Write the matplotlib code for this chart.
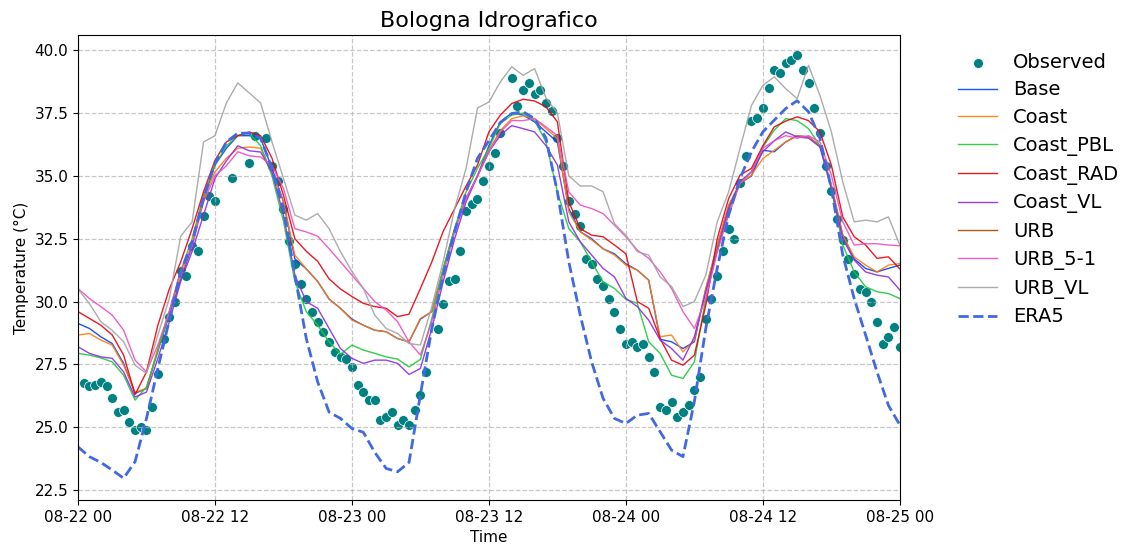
import numpy as np
import pandas as pd
import matplotlib
matplotlib.use("Agg")
import matplotlib.pyplot as plt
import matplotlib.dates as mdates

nan = np.nan

# half-hourly station observations, 08-22 00:30 .. 08-25 00:00
observed = [
    26.75, 26.63, 26.7, 26.8, 26.63, 26.15, 25.6, 25.7, 25.2, 24.9, 25.0, 24.9,
    25.8, 27.1, 28.5, 29.4, 30.0, 31.2, 31.0, 32.2, 32.0, 33.4, 34.2, 34.0,
    nan, nan, 34.9, nan, nan, 35.5, 36.6, nan, 36.5, 35.4, 34.8, 33.7,
    32.4, 31.5, 30.7, 30.1, 29.6, 29.2, 28.8, 28.4, 28.0, 27.8, 27.7, 27.4,
    26.7, 26.4, 26.1, 26.1, 25.3, 25.4, 25.6, 25.1, 25.3, 25.1, 25.7, 26.3,
    27.2, nan, 28.9, 29.9, 30.8, 30.9, 32.0, 33.6, 33.9, 34.1, 34.8, 35.4,
    35.9, 36.7, nan, 38.9, 37.8, 38.4, 38.7, 38.25, 38.4, 37.9, 37.6, 36.5,
    35.4, 34.0, 33.5, 33.0, 31.7, 31.5, 30.9, 30.6, 30.1, 29.6, 28.9, 28.3,
    28.4, 28.2, 28.3, 27.8, 27.2, 25.8, 25.7, 26.0, 25.4, 25.6, 25.9, 26.5,
    27.0, 29.3, 30.1, 31.0, 32.0, 32.9, 32.5, 34.7, 35.8, 37.2, 37.3, 37.7,
    38.5, 39.2, 39.1, 39.5, 39.6, 39.8, 39.2, 38.7, 37.7, 36.7, 35.4, 34.4,
    33.3, 32.45, 31.7, 31.1, 30.5, 30.4, 30.0, 29.2, 28.3, 28.6, 29.0, 28.2,
]

# hourly model output, 08-22 00 .. 08-25 00
base = [
    29.13, 28.93, 28.6, 28.33, 27.54, 26.35, 26.54, 28.07, 29.46, 30.9, 32.2, 34.1,
    35.43, 36.1, 36.6, 36.6, 36.5, 35.3, 33.97, 31.7, 31.3, 30.8, 30.1, 29.73,
    29.3, 29.06, 28.86, 28.8, 28.53, 28.4, 29.3, 29.6, 31.3, 32.9, 34.1, 35.0,
    36.2, 37.15, 37.5, 37.42, 37.15, 36.75, 36.35, 33.7, 32.78, 32.5, 32.1, 31.9,
    31.5, 31.25, 30.85, 28.5, 28.4, 28.13, 28.4, 30.5, 32.2, 33.8, 34.7, 35.0,
    36.02, 35.96, 36.35, 36.6, 36.55, 36.2, 34.6, 32.64, 31.7, 31.32, 31.18, 31.32,
    31.45,
]
coast = [
    28.67, 28.73, 28.47, 28.27, 27.47, 26.4, 26.54, 28.13, 29.6, 31.0, 32.3, 34.1,
    35.16, 35.7, 36.1, 36.15, 36.1, 35.16, 33.97, 31.85, 31.3, 30.8, 30.1, 29.73,
    29.26, 29.06, 28.86, 28.8, 28.53, 28.4, 29.33, 29.6, 31.3, 32.9, 34.1, 35.0,
    36.02, 36.8, 37.28, 37.39, 37.28, 36.88, 36.49, 33.57, 32.78, 32.45, 32.1, 31.85,
    31.45, 31.25, 30.85, 28.6, 28.67, 28.0, 28.47, 30.52, 32.25, 33.84, 34.7, 35.03,
    35.69, 36.02, 36.35, 36.6, 36.55, 36.2, 34.63, 32.64, 31.78, 31.45, 31.18, 31.45,
    31.51,
]
coast_pbl = [
    27.94, 27.87, 27.76, 27.6, 27.07, 26.08, 26.6, 28.0, 29.6, 31.2, 32.5, 34.23,
    35.43, 36.2, 36.6, 36.7, 36.2, 35.0, 33.2, 30.8, 29.6, 29.06, 28.4, 27.9,
    28.27, 28.07, 27.94, 27.8, 27.71, 27.4, 27.7, 29.33, 31.3, 32.9, 34.36, 35.3,
    36.1, 37.1, 37.42, 37.5, 37.2, 36.35, 34.36, 32.9, 32.38, 31.58, 30.79, 30.52,
    30.09, 29.93, 28.4, 27.94, 27.07, 26.94, 27.6, 30.12, 32.05, 33.57, 34.76, 35.16,
    36.15, 36.82, 37.28, 37.2, 36.88, 36.2, 34.5, 32.25, 31.18, 30.59, 30.39, 30.32,
    30.12,
]
coast_rad = [
    29.6, 29.33, 29.06, 28.67, 27.87, 26.3, 27.2, 29.06, 30.5, 31.58, 32.9, 34.37,
    35.62, 36.35, 36.6, 36.75, 36.6, 35.7, 34.23, 32.5, 32.0, 31.6, 30.9, 30.5,
    30.2, 29.93, 29.8, 29.73, 29.4, 29.5, 30.52, 31.58, 32.8, 33.7, 34.6, 35.43,
    36.75, 37.42, 37.88, 38.05, 37.98, 37.75, 37.15, 33.97, 32.9, 32.64, 32.58, 32.25,
    31.9, 30.0, 29.73, 28.53, 27.67, 27.47, 27.87, 29.86, 32.5, 34.1, 35.03, 35.3,
    36.2, 36.95, 37.18, 37.35, 37.2, 36.75, 35.43, 33.37, 32.58, 32.25, 31.72, 31.78,
    31.3,
]
coast_vl = [
    28.2, 27.94, 27.8, 27.74, 27.2, 26.2, 26.4, 27.74, 29.2, 30.8, 32.0, 33.44,
    34.9, 35.6, 36.2, 36.0, 35.95, 35.15, 33.44, 31.05, 30.0, 29.73, 28.93, 28.13,
    27.74, 27.54, 27.67, 27.67, 27.54, 27.1, 27.34, 28.93, 30.8, 32.5, 33.97, 35.0,
    35.96, 36.62, 37.0, 36.88, 36.75, 36.2, 35.43, 33.17, 32.38, 31.85, 31.32, 30.98,
    30.13, 29.8, 29.26, 28.47, 28.13, 27.67, 28.6, 30.39, 32.0, 33.7, 34.76, 35.16,
    35.96, 36.4, 36.75, 36.55, 36.5, 36.15, 34.5, 32.5, 31.65, 31.18, 31.05, 30.98,
    30.46,
]
urb = [nan] * 73  # no URB output for this station
urb_5_1 = [
    30.52, 30.12, 29.8, 29.46, 28.86, 27.67, 27.2, 28.27, 29.6, 31.25, 32.2, 33.97,
    35.0, 35.4, 35.96, 35.8, 35.75, 35.4, 34.5, 32.9, 32.77, 32.6, 32.1, 31.58,
    31.05, 30.52, 30.0, 29.66, 29.2, 28.4, 27.87, 29.2, 31.05, 32.77, 34.1, 35.0,
    35.96, 36.75, 37.2, 37.2, 37.28, 36.95, 36.6, 34.36, 33.84, 33.7, 33.5, 33.04,
    32.58, 32.05, 31.72, 31.18, 30.52, 29.6, 28.93, 30.12, 31.98, 33.44, 34.7, 35.16,
    36.1, 36.4, 36.6, 36.5, 36.6, 36.35, 35.03, 33.17, 32.25, 32.3, 32.3, 32.25,
    32.22,
]
urb_vl = [
    30.5, 29.92, 29.2, 28.86, 28.4, 27.47, 27.14, 28.67, 30.12, 32.6, 33.17, 36.35,
    36.6, 37.9, 38.7, 38.3, 37.9, 36.35, 34.9, 33.44, 33.24, 33.5, 32.9, 31.98,
    31.2, 30.52, 29.46, 28.93, 28.73, 28.33, 28.27, 29.8, 31.6, 33.7, 35.3, 37.7,
    37.94, 38.74, 39.34, 39.0, 39.27, 38.1, 37.5, 35.0, 34.6, 34.6, 34.37, 33.1,
    32.64, 31.98, 31.85, 30.98, 30.6, 29.8, 30.0, 31.05, 33.17, 34.36, 36.1, 37.8,
    38.6, 38.94, 38.47, 38.07, 39.4, 38.2, 36.75, 34.76, 33.17, 33.24, 33.17, 33.37,
    32.25,
]
era5 = [
    24.22, 23.83, 23.6, 23.3, 22.97, 23.63, 25.35, 27.34, 29.26, 31.18, 32.38, 34.1,
    35.5, 36.35, 36.7, 36.7, 36.5, 35.3, 33.7, 31.05, 28.53, 26.8, 25.6, 25.35,
    24.95, 24.8, 24.0, 23.36, 23.23, 23.6, 26.3, 28.93, 31.05, 32.77, 34.37, 35.7,
    36.4, 37.12, 37.48, 37.55, 37.28, 36.5, 34.36, 31.58, 29.46, 27.6, 26.15, 25.35,
    25.15, 25.48, 25.55, 24.82, 24.09, 23.83, 26.02, 28.93, 31.32, 33.44, 34.9, 35.96,
    36.75, 37.22, 37.68, 37.99, 37.55, 36.5, 34.5, 31.85, 30.12, 28.67, 27.2, 25.87,
    25.09,
]

obs_time = pd.date_range("2023-08-22 00:30", periods=len(observed), freq="30min")
model_time = pd.date_range("2023-08-22 00:00", periods=73, freq="h")

models = {
    "Base": base,
    "Coast": coast,
    "Coast_PBL": coast_pbl,
    "Coast_RAD": coast_rad,
    "Coast_VL": coast_vl,
    "URB": urb,
    "URB_5-1": urb_5_1,
    "URB_VL": urb_vl,
}
palette = ["#023eff", "#ff7c00", "#1ac938", "#e8000b", "#8b2be2",
           "#9f4800", "#f14cc1", "#a3a3a3"]

fig = plt.figure(figsize=(11.22, 5.49), dpi=100)
ax = fig.add_axes([0.0695, 0.089, 0.7325, 0.847])

ax.scatter(obs_time, observed, s=50, color="teal", edgecolor="white",
           linewidth=0.5, label="Observed", zorder=1)
for (name, vals), col in zip(models.items(), palette):
    ax.plot(model_time, vals, color=col, lw=1.0, alpha=0.9, label=name, zorder=2)
ax.plot(model_time, era5, color="royalblue", lw=2.0, ls="--", label="ERA5", zorder=2)

ax.set_xlim(pd.Timestamp("2023-08-22 00:00"), pd.Timestamp("2023-08-25 00:00"))
ax.set_ylim(22.1, 40.6)
ax.set_yticks(np.arange(22.5, 40.1, 2.5))
ax.xaxis.set_major_locator(mdates.HourLocator(byhour=[0, 12]))
ax.xaxis.set_major_formatter(mdates.DateFormatter("%m-%d %H"))
ax.tick_params(labelsize=11)
ax.grid(True, ls="--", color="#b0b0b0", alpha=0.7, lw=0.9)

ax.set_title("Bologna Idrografico", fontsize=16)
ax.set_xlabel("Time", fontsize=11)
ax.set_ylabel("Temperature (°C)", fontsize=11)

ax.legend(loc="upper left", bbox_to_anchor=(1.05, 1.0), frameon=False,
          fontsize=14, handlelength=2.0, labelspacing=0.45)

fig.savefig("out.png", dpi=100)
